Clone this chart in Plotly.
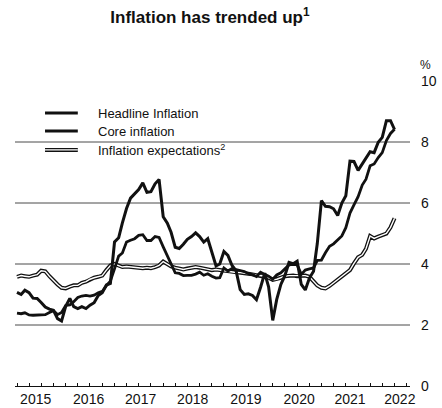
"""Inflation chart: headline, core and expectations."""

import pandas as pd
import plotly.graph_objects as go

FONT = "Liberation Sans, Arial, sans-serif"
INK = "#111111"
GRID_COLOR = "#4a4a4a"

# monthly, Jan 2015 .. Oct 2022 (annual % change)
MONTHS = pd.date_range("2015-01-01", periods=94, freq="MS")

HEADLINE = [
    3.07, 3.00, 3.14, 3.06, 2.88, 2.87, 2.74, 2.59, 2.52, 2.48, 2.21, 2.13,
    2.61, 2.87, 2.60, 2.54, 2.60, 2.54, 2.65, 2.73, 2.97, 3.06, 3.31, 3.36,
    4.72, 4.86, 5.35, 5.82, 6.16, 6.31, 6.44, 6.66, 6.35, 6.37, 6.63, 6.77,
    5.55, 5.34, 5.04, 4.55, 4.51, 4.65, 4.81, 4.90, 5.02, 4.90, 4.72, 4.83,
    4.37, 3.94, 4.00, 4.41, 4.28, 3.95, 3.78, 3.16, 3.00, 3.02, 2.97, 2.83,
    3.24, 3.70, 3.25, 2.15, 2.84, 3.33, 3.62, 4.05, 4.01, 4.09, 3.33, 3.15,
    3.54, 3.76, 4.67, 6.08, 5.89, 5.88, 5.81, 5.59, 6.00, 6.24, 7.37, 7.36,
    7.07, 7.28, 7.45, 7.68, 7.65, 7.99, 8.15, 8.70, 8.70, 8.41,
]

CORE = [
    2.39, 2.37, 2.40, 2.33, 2.32, 2.32, 2.33, 2.34, 2.41, 2.47, 2.34, 2.41,
    2.64, 2.66, 2.76, 2.90, 2.95, 2.97, 2.95, 2.98, 3.06, 3.10, 3.29, 3.44,
    3.84, 4.26, 4.36, 4.72, 4.78, 4.83, 4.94, 4.96, 4.77, 4.77, 4.90, 4.87,
    4.56, 4.27, 4.02, 3.71, 3.69, 3.62, 3.63, 3.63, 3.67, 3.73, 3.63, 3.68,
    3.60, 3.54, 3.55, 3.87, 3.77, 3.85, 3.82, 3.78, 3.75, 3.68, 3.65, 3.59,
    3.73, 3.66, 3.60, 3.50, 3.64, 3.71, 3.85, 3.97, 3.99, 3.98, 3.66, 3.80,
    3.84, 3.87, 4.12, 4.13, 4.37, 4.58, 4.66, 4.78, 4.92, 5.19, 5.67, 5.94,
    6.21, 6.59, 6.78, 7.22, 7.28, 7.49, 7.65, 8.05, 8.28, 8.42,
]

EXPECTATIONS = [
    3.58, 3.62, 3.60, 3.58, 3.62, 3.65, 3.78, 3.76, 3.60, 3.45, 3.33, 3.22,
    3.20, 3.26, 3.30, 3.30, 3.38, 3.42, 3.50, 3.55, 3.58, 3.62, 3.80, 3.95,
    4.00, 3.95, 3.90, 3.92, 3.90, 3.88, 3.86, 3.86, 3.88, 3.86, 3.90, 3.95,
    4.08, 3.98, 3.92, 3.88, 3.85, 3.82, 3.85, 3.88, 3.90, 3.88, 3.85, 3.82,
    3.80, 3.82, 3.80, 3.78, 3.76, 3.74, 3.72, 3.72, 3.70, 3.68, 3.66, 3.64,
    3.62, 3.60, 3.55, 3.48, 3.50, 3.55, 3.60, 3.62, 3.62, 3.60, 3.60, 3.62,
    3.58, 3.45, 3.30, 3.22, 3.20, 3.28, 3.38, 3.50, 3.58, 3.70, 3.80, 4.02,
    4.22, 4.30, 4.50, 4.92, 4.84, 4.90, 4.95, 5.00, 5.20, 5.50,
]

LEGEND_NAMES = ["Headline Inflation", "Core inflation",
                "Inflation expectations<sup>2</sup>"]

YEAR_LABELS = ["2015", "2016", "2017", "2018", "2019", "2020", "2021", "2022"]
# label anchors as printed on the original axis (they drift off mid-year)
YEAR_TICKS = [
    "2015-05-21", "2016-06-21", "2017-07-16", "2018-08-10",
    "2019-09-13", "2020-10-16", "2021-11-01", "2022-11-10",
]
Y_TICKS = [0, 2, 4, 6, 8, 10]
GRID_LEVELS = [2, 4, 6, 8]

fig = go.Figure()

# expectations: drawn as an outlined (hollow) line
fig.add_trace(
    go.Scatter(x=MONTHS, y=EXPECTATIONS, mode="lines",
               line=dict(color=INK, width=4))
)
fig.add_trace(
    go.Scatter(x=MONTHS, y=EXPECTATIONS, mode="lines",
               line=dict(color="white", width=1.4))
)
fig.add_trace(
    go.Scatter(x=MONTHS, y=CORE, mode="lines", line=dict(color=INK, width=2.8))
)
fig.add_trace(
    go.Scatter(x=MONTHS, y=HEADLINE, mode="lines", line=dict(color=INK, width=3))
)

for level in GRID_LEVELS:
    fig.add_shape(
        type="line", xref="paper", yref="y", x0=0, x1=1, y0=level, y1=level,
        line=dict(color=GRID_COLOR, width=1), layer="below",
    )

# hand-drawn key, top left inside the plot
key_rows = [0.895, 0.836, 0.774]
for i, (name, ky) in enumerate(zip(LEGEND_NAMES, key_rows)):
    width = 4 if i == 2 else 3
    fig.add_shape(
        type="line", xref="paper", yref="paper", x0=0.076, x1=0.159,
        y0=ky, y1=ky, line=dict(color=INK, width=width),
    )
    if i == 2:
        fig.add_shape(
            type="line", xref="paper", yref="paper", x0=0.076, x1=0.159,
            y0=ky, y1=ky, line=dict(color="white", width=1.2),
        )
    fig.add_annotation(
        text=name, xref="paper", yref="paper", x=0.205, y=ky,
        xanchor="left", yanchor="middle", showarrow=False,
        font=dict(size=13, color=INK),
    )

fig.update_layout(
    width=442,
    height=408,
    paper_bgcolor="white",
    plot_bgcolor="white",
    margin=dict(l=15, r=32, t=81, b=22),
    font=dict(family=FONT, color=INK, size=13),
    title=dict(
        text="<b>Inflation has trended up<sup>1</sup></b>",
        x=0.475, xanchor="center", y=0.957, yanchor="middle",
        font=dict(size=17, color=INK),
    ),
    showlegend=False,
)

fig.update_xaxes(
    type="date",
    range=["2014-12-17", "2023-01-25"],
    tickmode="array",
    tickvals=YEAR_TICKS,
    ticktext=YEAR_LABELS,
    ticks="",
    showgrid=False,
    showline=True,
    linecolor=INK,
    linewidth=1,
    zeroline=False,
    tickfont=dict(size=14, color=INK),
    minor=dict(ticks="inside", dtick="M3", tick0="2015-01-01", ticklen=3,
               tickcolor=INK, showgrid=False),
    automargin=False,
)
fig.update_yaxes(
    range=[0, 10],
    side="right",
    tickmode="array",
    tickvals=Y_TICKS,
    ticks="",
    showgrid=False,
    showline=False,
    zeroline=False,
    ticklabelstandoff=10,
    tickfont=dict(size=14, color=INK),
    automargin=False,
)

fig.add_annotation(
    text="%", xref="paper", yref="paper", x=1.0405, y=1.053,
    xanchor="center", yanchor="middle", showarrow=False,
    font=dict(size=12, color=INK),
)

# the page body carries a default 8px margin; drop it so the figure sits at 0,0
fig.write_html(
    "out.html",
    config={"displayModeBar": False},
    post_script="document.body.style.margin = '0';",
)
